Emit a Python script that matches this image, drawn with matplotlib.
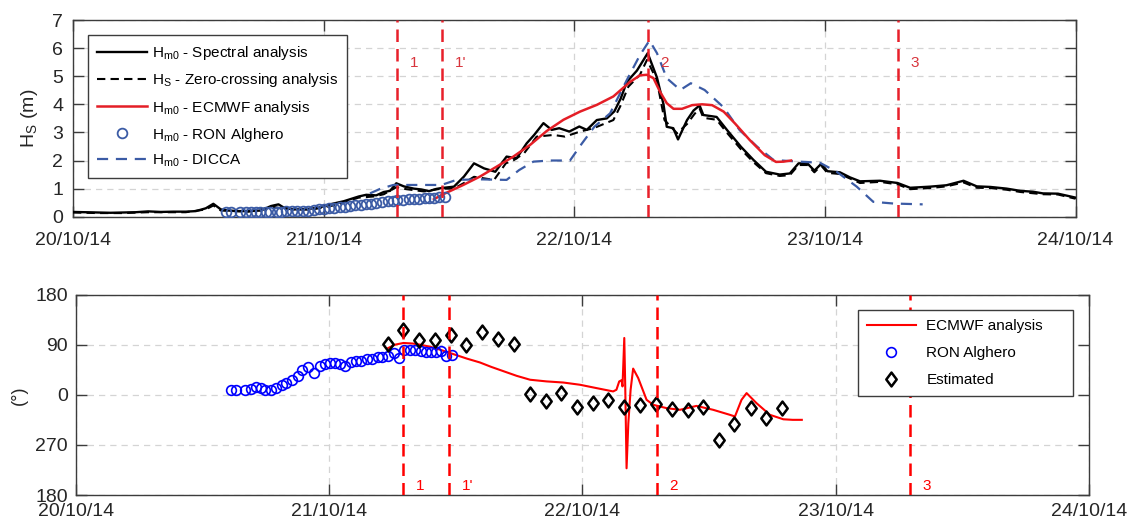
import numpy as np
import matplotlib
matplotlib.use('Agg')
import matplotlib.pyplot as plt
from matplotlib.lines import Line2D
from matplotlib.path import Path

plt.rcParams['font.family'] = ['Liberation Sans', 'DejaVu Sans']
plt.rcParams['mathtext.fontset'] = 'custom'
plt.rcParams['mathtext.rm'] = 'Liberation Sans'
plt.rcParams['mathtext.it'] = 'Liberation Sans:italic'

# time axis: days after 20/10/14 00:00
tick_days = [0, 1, 2, 3, 4]
tick_labels = ['20/10/14', '21/10/14', '22/10/14', '23/10/14', '24/10/14']

event_days = [1.293, 1.473, 2.293, 3.293]
event_names = ['1', "1'", '2', '3']

# Hm0 spectral analysis
spec_t = [0.00, 0.05, 0.10, 0.15, 0.20, 0.25, 0.30, 0.35, 0.40, 0.45, 0.49, 0.53,
          0.56, 0.59, 0.62, 0.66, 0.70, 0.75, 0.79, 0.82, 0.84, 0.88, 0.93, 0.98,
          1.03, 1.08, 1.14, 1.17, 1.21, 1.24, 1.265, 1.29, 1.32, 1.36, 1.39, 1.42,
          1.45, 1.47, 1.52, 1.56, 1.60, 1.64, 1.685, 1.73, 1.77, 1.81, 1.84, 1.877,
          1.91, 1.94, 1.98, 2.02, 2.05, 2.09, 2.13, 2.16, 2.185, 2.21, 2.25, 2.293,
          2.33, 2.356, 2.369, 2.395, 2.414, 2.45, 2.476, 2.50, 2.515, 2.568, 2.61,
          2.665, 2.715, 2.765, 2.82, 2.86, 2.895, 2.93, 2.958, 2.985, 3.01, 3.06,
          3.10, 3.14, 3.22, 3.29, 3.34, 3.42, 3.485, 3.553, 3.606, 3.66, 3.725,
          3.78, 3.83, 3.87, 3.93, 4.00]
spec_h = [0.17, 0.16, 0.15, 0.14, 0.15, 0.16, 0.19, 0.17, 0.18, 0.18, 0.20, 0.30,
          0.46, 0.26, 0.22, 0.20, 0.20, 0.22, 0.38, 0.44, 0.33, 0.26, 0.27, 0.32,
          0.45, 0.55, 0.72, 0.78, 0.76, 0.88, 0.92, 1.19, 1.08, 1.00, 0.97, 0.91,
          0.99, 1.02, 1.07, 1.43, 1.90, 1.72, 1.60, 2.14, 2.08, 2.61, 2.91, 3.33,
          3.09, 3.15, 3.03, 3.21, 3.09, 3.44, 3.50, 3.75, 4.20, 4.80, 5.20, 5.82,
          4.95, 4.00, 3.20, 3.15, 2.75, 3.44, 3.78, 3.96, 3.62, 3.55, 3.08,
          2.49, 2.02, 1.60, 1.50, 1.54, 1.90, 1.90, 1.64, 1.88, 1.62, 1.58,
          1.40, 1.26, 1.28, 1.20, 1.03, 1.07, 1.12, 1.28, 1.08, 1.06, 1.00,
          0.92, 0.89, 0.83, 0.82, 0.68]

# Hs zero-crossing analysis
zc_t = [0.00, 0.10, 0.20, 0.30, 0.45, 0.53, 0.56, 0.59, 0.70, 0.80, 0.84, 0.95,
        1.05, 1.14, 1.20, 1.24, 1.29, 1.33, 1.40, 1.47, 1.52, 1.56, 1.60, 1.68,
        1.727, 1.76, 1.80, 1.85, 1.917, 1.963, 2.023, 2.077, 2.156, 2.183, 2.216,
        2.262, 2.29, 2.329, 2.36, 2.41, 2.45, 2.48, 2.50, 2.515, 2.568, 2.61,
        2.665, 2.715, 2.765, 2.82, 2.86, 2.895, 2.93, 2.958, 2.985, 3.01, 3.06,
        3.14, 3.22, 3.29, 3.34, 3.42, 3.485, 3.553, 3.606, 3.66, 3.725, 3.78,
        3.87, 3.93, 4.00]
zc_h = [0.15, 0.13, 0.13, 0.16, 0.16, 0.26, 0.40, 0.22, 0.18, 0.35, 0.28, 0.25,
        0.42, 0.68, 0.72, 0.80, 1.05, 0.98, 0.90, 1.00, 1.00, 1.20, 1.42, 1.31,
        1.90, 2.02, 2.26, 2.85, 2.91, 2.85, 3.03, 3.15, 3.44, 3.92, 4.63,
        5.05, 5.58, 4.87, 3.44, 2.97, 3.30, 3.66, 3.85, 3.52, 3.45, 2.98,
        2.40, 1.94, 1.55, 1.45, 1.48, 1.84, 1.84, 1.58, 1.82, 1.56, 1.52,
        1.20, 1.24, 1.15, 0.98, 1.02, 1.08, 1.22, 1.03, 1.02, 0.96, 0.88,
        0.80, 0.79, 0.64]

# Hm0 ECMWF analysis
ec_t = [1.44, 1.47, 1.557, 1.624, 1.69, 1.757, 1.823, 1.89, 1.957, 2.023, 2.09,
        2.156, 2.223, 2.262, 2.289, 2.316, 2.342, 2.369, 2.396, 2.43, 2.47, 2.51,
        2.55, 2.596, 2.641, 2.70, 2.76, 2.805, 2.835, 2.865]
ec_h = [0.62, 0.77, 1.13, 1.43, 1.78, 2.14, 2.55, 3.05, 3.45, 3.74, 3.98,
        4.28, 4.80, 5.03, 5.05, 4.93, 4.45, 4.04, 3.84, 3.84, 3.97, 4.00,
        3.97, 3.74, 3.32, 2.73, 2.19, 1.95, 1.96, 2.00]

# Hm0 DICCA
dic_t = [1.185, 1.225, 1.278, 1.47, 1.53, 1.624, 1.73, 1.78, 1.837, 1.903, 1.983,
         2.03, 2.08, 2.143, 2.21, 2.262, 2.30, 2.33, 2.369, 2.423, 2.465, 2.52,
         2.595, 2.66, 2.73, 2.795, 2.86, 2.98, 3.047, 3.127, 3.193, 3.273, 3.39]
dic_h = [0.83, 0.99, 1.13, 1.13, 1.31, 1.33, 1.31, 1.66, 1.96, 2.00, 2.00,
         2.60, 3.20, 3.68, 4.87, 5.75, 6.27, 5.82, 4.93, 4.51, 4.75, 4.51,
         3.90, 3.08, 2.49, 2.02, 1.98, 1.92, 1.60, 1.07, 0.53, 0.47, 0.44]

# RON Alghero buoy
ron_t = [0.611, 0.632, 0.668, 0.689, 0.710, 0.731, 0.748, 0.771, 0.788, 0.813,
         0.830, 0.851, 0.875, 0.894, 0.918, 0.938, 0.962, 0.983, 1.003, 1.021,
         1.042, 1.064, 1.085, 1.106, 1.127, 1.149, 1.170, 1.191, 1.209, 1.233,
         1.255, 1.276, 1.294, 1.318, 1.340, 1.361, 1.382, 1.403, 1.422, 1.441,
         1.460, 1.484]
ron_h = [0.18, 0.18, 0.17, 0.17, 0.17, 0.16, 0.16, 0.17, 0.17, 0.18,
         0.18, 0.19, 0.20, 0.20, 0.21, 0.22, 0.24, 0.26, 0.28, 0.30,
         0.32, 0.34, 0.36, 0.38, 0.40, 0.42, 0.45, 0.47, 0.49, 0.52,
         0.55, 0.57, 0.60, 0.61, 0.62, 0.63, 0.64, 0.66, 0.67, 0.68,
         0.69, 0.71]
# direction, degrees, values above 180 stored as negative (270 -> -90)
ron_dir = [8, 8, 9, 10, 14, 12, 8, 8, 12, 18,
           21, 26, 34, 45, 50, 39, 52, 56, 57, 57,
           55, 51, 58, 60, 60, 64, 65, 68, 68, 70,
           75, 66, 81, 81, 80, 79, 76, 76, 76, 78,
           70, 72]

ecd_t = [1.233, 1.26, 1.293, 1.33, 1.358, 1.40, 1.437, 1.49, 1.543, 1.595, 1.64,
         1.69, 1.74, 1.793, 1.858, 1.924, 1.99, 2.055, 2.121, 2.134, 2.145, 2.154,
         2.158, 2.165, 2.169, 2.174, 2.181, 2.19, 2.20, 2.22, 2.253, 2.279, 2.332,
         2.385, 2.45, 2.516, 2.582, 2.602, 2.628, 2.648, 2.687, 2.74, 2.793, 2.83,
         2.866]
ecd_dir = [84, 90, 93, 92, 90, 86, 81, 73, 65, 58, 50,
           42, 34, 27, 24, 22, 18, 12, 6, 9, 24, 26,
           15, 102, 9, -132, -51, 9, 47, 30, -9, -18, -24,
           -27, -20, -27, -36, -39, -9, 3, -15, -36, -44, -45,
           -45]

est_t = [1.233, 1.293, 1.356, 1.417, 1.481, 1.54, 1.603, 1.668, 1.728, 1.794,
         1.854, 1.914, 1.977, 2.04, 2.102, 2.164, 2.227, 2.29, 2.352, 2.418,
         2.477, 2.54, 2.6, 2.664, 2.725, 2.789]
est_dir = [91, 117, 98, 98, 108, 89, 112, 101, 92, 2,
           -12, 3, -22, -14, -10, -22, -18, -16, -26, -28,
           -22, -81, -52, -24, -41, -24]

dir_ticks = [-180, -90, 0, 90, 180]
dir_labels = ['180', '270', '0', '90', '180']

spine_col = '#3c3c3c'
grid_col = '#d4d4d4'
text_col = '#262626'

# MATLAB-like diamond, a bit taller than wide
diamond = Path([(0, 1), (0.75, 0), (0, -1), (-0.75, 0), (0, 1)],
               [Path.MOVETO, Path.LINETO, Path.LINETO, Path.LINETO, Path.CLOSEPOLY])


def style_axes(ax):
    for s in ax.spines.values():
        s.set_color(spine_col)
        s.set_linewidth(1.0)
    ax.tick_params(direction='in', top=True, right=True, length=8, width=1.0,
                   color=spine_col, labelcolor=text_col, labelsize=14)
    ax.grid(True, color=grid_col, linestyle=(0, (5, 4)), linewidth=0.9)
    ax.set_axisbelow(True)


fig = plt.figure(figsize=(11.28, 5.25), dpi=100)
ax1 = fig.add_axes([0.0647, 0.5872, 0.8888, 0.3747])
ax2 = fig.add_axes([0.0674, 0.0571, 0.8980, 0.3819])

# ---- top panel: wave height
style_axes(ax1)
ax1.plot(spec_t, spec_h, color='black', lw=1.7, zorder=3)
ax1.plot(zc_t, zc_h, color='black', lw=1.5, dashes=(4, 2.5), zorder=3)
ax1.plot(ec_t, ec_h, color='#e41e26', lw=1.8, zorder=4)
ax1.plot(ron_t, ron_h, ls='none', marker='o', ms=7, mfc='none', mec='#3b5ba5',
         mew=1.3, zorder=5)
ax1.plot(dic_t, dic_h, color='#3b5ba5', lw=1.6, dashes=(5, 3.5), zorder=3)
for d, name in zip(event_days, event_names):
    ax1.axvline(d, color='#e8202a', lw=1.8, dashes=(5, 2.8), zorder=6)
    ax1.text(d + 0.05, 5.47, name, color='#d8343c', fontsize=11, va='center',
             ha='left', zorder=6)
ax1.set_xlim(0, 4)
ax1.set_ylim(0, 7)
ax1.set_yticks(range(8))
ax1.set_xticks(tick_days, tick_labels)
ax1.tick_params(axis='x', pad=11)
ax1.tick_params(axis='y', pad=7)
ax1.set_ylabel(r'H$_{\mathrm{S}}$ (m)', fontsize=14, color=text_col, labelpad=9)

leg1_handles = [
    Line2D([], [], color='black', lw=1.7),
    Line2D([], [], color='black', lw=1.5, dashes=(4, 2.5)),
    Line2D([], [], color='#e41e26', lw=1.8),
    Line2D([], [], ls='none', marker='o', ms=7, mfc='none', mec='#3b5ba5', mew=1.3),
    Line2D([], [], color='#3b5ba5', lw=1.6, dashes=(5, 3.5)),
]
leg1_labels = [r'H$_{\mathrm{m0}}$ - Spectral analysis',
               r'H$_{\mathrm{S}}$ - Zero-crossing analysis',
               r'H$_{\mathrm{m0}}$ - ECMWF analysis',
               r'H$_{\mathrm{m0}}$ - RON Alghero',
               r'H$_{\mathrm{m0}}$ - DICCA']
leg1 = ax1.legend(leg1_handles, leg1_labels, loc='upper left',
                  bbox_to_anchor=(0.0147, 0.9237), borderaxespad=0,
                  fontsize=11, handlelength=3.3, handletextpad=0.3,
                  labelspacing=0.6, borderpad=0.6, fancybox=False,
                  framealpha=1, edgecolor=spine_col)
leg1.get_frame().set_linewidth(1.0)
leg1.set_zorder(10)

# ---- bottom panel: direction
style_axes(ax2)
ax2.plot(ecd_t, ecd_dir, color='red', lw=1.5, zorder=3)
ax2.plot(ron_t, ron_dir, ls='none', marker='o', ms=7, mfc='none', mec='blue',
         mew=1.2, zorder=4)
ax2.plot(est_t, est_dir, ls='none', marker=diamond, ms=10, mfc='none', mec='black',
         mew=1.8, zorder=4)
for d, name in zip(event_days, event_names):
    ax2.axvline(d, color='red', lw=1.8, dashes=(5, 2.8), zorder=5)
    ax2.text(d + 0.05, -164, name, color='red', fontsize=11, va='center',
             ha='left', zorder=5)
ax2.set_xlim(0, 4)
ax2.set_ylim(-180, 180)
ax2.set_yticks(dir_ticks, dir_labels)
ax2.set_xticks(tick_days, tick_labels)
ax2.tick_params(axis='x', pad=6)
ax2.tick_params(axis='y', pad=6)
ax2.set_ylabel('(°)', fontsize=13, color=text_col, labelpad=5)

leg2_handles = [
    Line2D([], [], color='red', lw=1.5),
    Line2D([], [], ls='none', marker='o', ms=7, mfc='none', mec='blue', mew=1.2),
    Line2D([], [], ls='none', marker=diamond, ms=10, mfc='none', mec='black', mew=1.8),
]
leg2 = ax2.legend(leg2_handles, ['ECMWF analysis', 'RON Alghero', 'Estimated'],
                  loc='upper left', bbox_to_anchor=(0.7716, 0.8227, 0.2124, 0.1),
                  mode='expand', borderaxespad=0, fontsize=11, handlelength=3.2,
                  handletextpad=0.7, labelspacing=0.85, borderpad=0.6,
                  fancybox=False, framealpha=1, edgecolor=spine_col)
leg2.get_frame().set_linewidth(1.0)
leg2.set_zorder(10)

fig.savefig('out.png', dpi=100)
